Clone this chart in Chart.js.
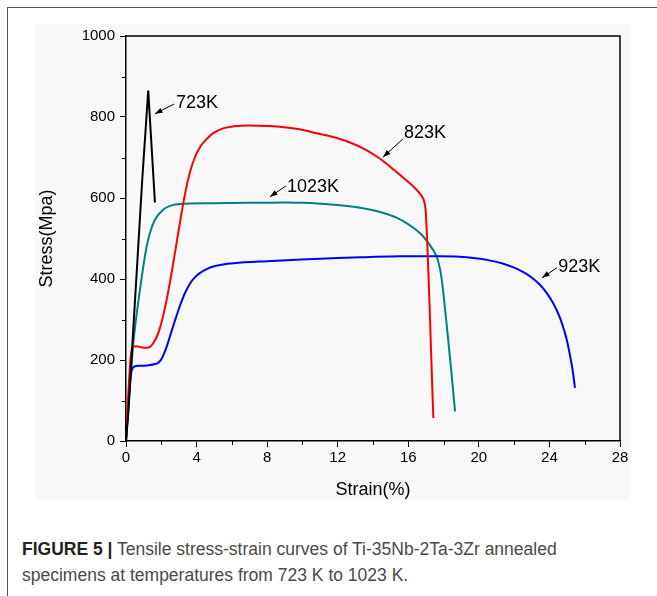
<!DOCTYPE html>
<html>
<head>
<meta charset="utf-8">
<script src="https://cdn.jsdelivr.net/npm/chart.js@4.4.1/dist/chart.umd.min.js"></script>
<style>
    body { margin: 0; background: #fff; width: 657px; height: 596px; overflow: hidden; position: relative; font-family: "Liberation Sans", Arial, sans-serif; }
    #frame { position: absolute; left: 7px; top: 7px; width: 700px; height: 700px; border-left: 1.5px solid #555; border-top: 1.5px solid #555; }
    #plotbg { position: absolute; left: 35px; top: 24px; width: 595px; height: 476px; background: #f8f8f8; }
    #grafica { position: absolute; left: 0; top: 0; }
    #caption { position: absolute; left: 22px; top: 536px; font-size: 17.5px; line-height: 26px; color: #4a4a4a; }
    #caption b { color: #222; }
</style>
</head>
<body>
<div id="frame"></div>
<div id="plotbg"></div>
<canvas id="grafica" width="657" height="501"></canvas>
<div id="caption"><b>FIGURE 5 |</b> Tensile stress-strain curves of Ti-35Nb-2Ta-3Zr annealed<br>specimens at temperatures from 723 K to 1023 K.</div>
<script>
// datos
const strain_723 = [0, 0.13, 0.92, 1.26, 1.64]
const stress_723 = [0, 70, 645, 865, 589]

const strain_823 = [0, 0.1, 0.25, 0.35, 0.6, 0.9, 1.17, 1.4, 1.55, 1.75, 1.93, 2.12, 2.31, 2.5, 2.68, 2.87, 3.06, 3.25, 3.45, 3.63, 3.9, 4.2, 4.6, 4.95, 5.5, 6.1, 7.0, 8.0, 8.7, 9.9, 10.8, 11.8, 12.7, 13.6, 14.4, 15.2, 15.8, 16.3, 16.6, 16.8, 16.92, 17.0, 17.42]
const stress_823 = [0, 90, 200, 230, 234, 231, 230, 234, 242, 258, 280, 312, 350, 394, 440, 490, 540, 588, 632, 665, 700, 726, 747, 760, 772, 777, 779, 778, 776, 769, 760, 750, 737, 719, 697, 669, 647, 628, 614, 602, 588, 560, 57]

const strain_923 = [0, 0.1, 0.2, 0.3, 0.45, 0.7, 1.0, 1.3, 1.64, 1.85, 2.02, 2.25, 2.49, 2.75, 3.06, 3.35, 3.63, 3.9, 4.2, 4.6, 4.95, 5.5, 6.1, 8, 9.9, 12, 13.6, 15.5, 17.8, 18.9, 19.7, 20.6, 21.3, 22.0, 22.6, 23.1, 23.5, 23.85, 24.15, 24.4, 24.65, 24.85, 25.0, 25.15, 25.3, 25.45]
const stress_923 = [0, 70, 130, 170, 183, 186, 186, 187, 190, 194, 203, 226, 258, 294, 334, 366, 389, 404, 415, 425, 431, 436, 439, 444, 448, 452, 454, 456, 456, 455, 452, 446, 439, 428, 415, 400, 384, 365, 345, 324, 298, 271, 247, 215, 179, 131]

const strain_1023 = [0, 0.1, 0.25, 0.41, 0.79, 1.17, 1.55, 2.11, 2.68, 3.44, 5, 7, 9, 10, 11, 12, 13, 14, 14.6, 15.3, 15.9, 16.4, 16.85, 17.4, 17.65, 17.82, 17.95, 18.05, 18.17, 18.4, 18.65]
const stress_1023 = [0, 60, 150, 240, 373, 480, 538, 571, 583, 586, 587, 588, 589, 588, 586, 583, 578, 570, 563, 552, 538, 523, 505, 472, 450, 420, 380, 340, 290, 190, 73]

const etiquetas = ['723K', '823K', '923K', '1023K']
const y_ticks = [0, 200, 400, 600, 800, 1000]
const x_ticks = [0, 4, 8, 12, 16, 20, 24, 28]

const puntos = (xs, ys) => xs.map((x, i) => ({ x: x, y: ys[i] }))

// posiciones de las etiquetas con flecha (en unidades de datos)
const notas = [
    { text: '723K', tx: 2.83, ty: 835, ax: 2.72, ay: 832, hx: 1.64, hy: 808 },
    { text: '823K', tx: 15.76, ty: 761, ax: 15.7, ay: 746, hx: 14.57, hy: 701 },
    { text: '1023K', tx: 9.13, ty: 627, ax: 9.07, ay: 630, hx: 8.16, hy: 603 },
    { text: '923K', tx: 24.5, ty: 430, ax: 24.43, ay: 428, hx: 23.58, hy: 403 }
]

const marco = {
    id: 'marco',
    afterDraw(chart) {
        const ctx = chart.ctx
        const a = chart.chartArea
        const xs = chart.scales.x
        const ys = chart.scales.y
        ctx.save()
        ctx.strokeStyle = '#000'
        ctx.lineWidth = 1.5
        ctx.beginPath()
        ctx.moveTo(a.left, a.top)
        ctx.lineTo(a.right, a.top)
        ctx.lineTo(a.right, a.bottom)
        ctx.stroke()
        // ticks menores
        ctx.lineWidth = 1
        ctx.beginPath()
        for (let v = 100; v < 1000; v += 200) {
            const p = Math.round(ys.getPixelForValue(v)) + 0.5
            ctx.moveTo(a.left - 4, p)
            ctx.lineTo(a.left, p)
        }
        for (let v = 2; v < 28; v += 4) {
            const p = Math.round(xs.getPixelForValue(v)) + 0.5
            ctx.moveTo(p, a.bottom)
            ctx.lineTo(p, a.bottom + 4)
        }
        ctx.stroke()
        ctx.restore()
    }
}

const flechas = {
    id: 'flechas',
    afterDatasetsDraw(chart) {
        const ctx = chart.ctx
        const xs = chart.scales.x
        const ys = chart.scales.y
        ctx.save()
        ctx.fillStyle = '#000'
        ctx.strokeStyle = '#000'
        ctx.font = '18px "Liberation Sans", Arial, sans-serif'
        ctx.textBaseline = 'middle'
        notas.forEach(n => {
            ctx.fillText(n.text, xs.getPixelForValue(n.tx), ys.getPixelForValue(n.ty))
            const x1 = xs.getPixelForValue(n.ax), y1 = ys.getPixelForValue(n.ay)
            const x2 = xs.getPixelForValue(n.hx), y2 = ys.getPixelForValue(n.hy)
            const ang = Math.atan2(y2 - y1, x2 - x1)
            ctx.lineWidth = 1
            ctx.beginPath()
            ctx.moveTo(x1, y1)
            ctx.lineTo(x2, y2)
            ctx.stroke()
            ctx.beginPath()
            ctx.moveTo(x2, y2)
            ctx.lineTo(x2 - 8 * Math.cos(ang - 0.35), y2 - 8 * Math.sin(ang - 0.35))
            ctx.lineTo(x2 - 8 * Math.cos(ang + 0.35), y2 - 8 * Math.sin(ang + 0.35))
            ctx.closePath()
            ctx.fill()
        })
        ctx.restore()
    }
}

const grafica = document.getElementById('grafica').getContext('2d')

new Chart(grafica, {
    type: 'scatter',
    data: {
        datasets: [
            { label: etiquetas[0], data: puntos(strain_723, stress_723), borderColor: '#000000', tension: 0 },
            { label: etiquetas[1], data: puntos(strain_823, stress_823), borderColor: '#ff0000', cubicInterpolationMode: 'monotone' },
            { label: etiquetas[2], data: puntos(strain_923, stress_923), borderColor: '#0000ff', cubicInterpolationMode: 'monotone' },
            { label: etiquetas[3], data: puntos(strain_1023, stress_1023), borderColor: '#008080', cubicInterpolationMode: 'monotone' }
        ]
    },
    options: {
        responsive: false,
        animation: false,
        showLine: true,
        elements: {
            point: { radius: 0 },
            line: { borderWidth: 2, fill: false }
        },
        layout: { padding: { top: 36, right: 37, left: 0, bottom: 0 } },
        scales: {
            x: {
                type: 'linear',
                min: 0,
                max: 28,
                afterBuildTicks: s => { s.ticks = x_ticks.map(v => ({ value: v })) },
                afterFit: s => { s.height = 60 },
                grid: { drawOnChartArea: false, drawTicks: true, tickLength: 6, color: '#000', tickWidth: 1 },
                border: { display: true, color: '#000', width: 1.5 },
                ticks: { color: '#000', font: { size: 15, family: '"Liberation Sans", Arial' }, padding: 2, maxRotation: 0, callback: v => String(v) },
                title: { display: true, text: 'Strain(%)', color: '#000', font: { size: 18, family: '"Liberation Sans", Arial' }, padding: 0 }
            },
            y: {
                type: 'linear',
                min: 0,
                max: 1000,
                afterBuildTicks: s => { s.ticks = y_ticks.map(v => ({ value: v })) },
                afterFit: s => { s.width = 126 },
                grid: { drawOnChartArea: false, drawTicks: true, tickLength: 6, color: '#000', tickWidth: 1 },
                border: { display: true, color: '#000', width: 1.5 },
                ticks: { color: '#000', font: { size: 15, family: '"Liberation Sans", Arial' }, padding: 5, callback: v => String(v) },
                title: { display: true, text: 'Stress(Mpa)', color: '#000', font: { size: 18, family: '"Liberation Sans", Arial' }, padding: { top: 36, bottom: 0 } }
            }
        },
        plugins: {
            legend: { display: false },
            tooltip: { enabled: false }
        }
    },
    plugins: [marco, flechas]
});
</script>
</body>
</html>
